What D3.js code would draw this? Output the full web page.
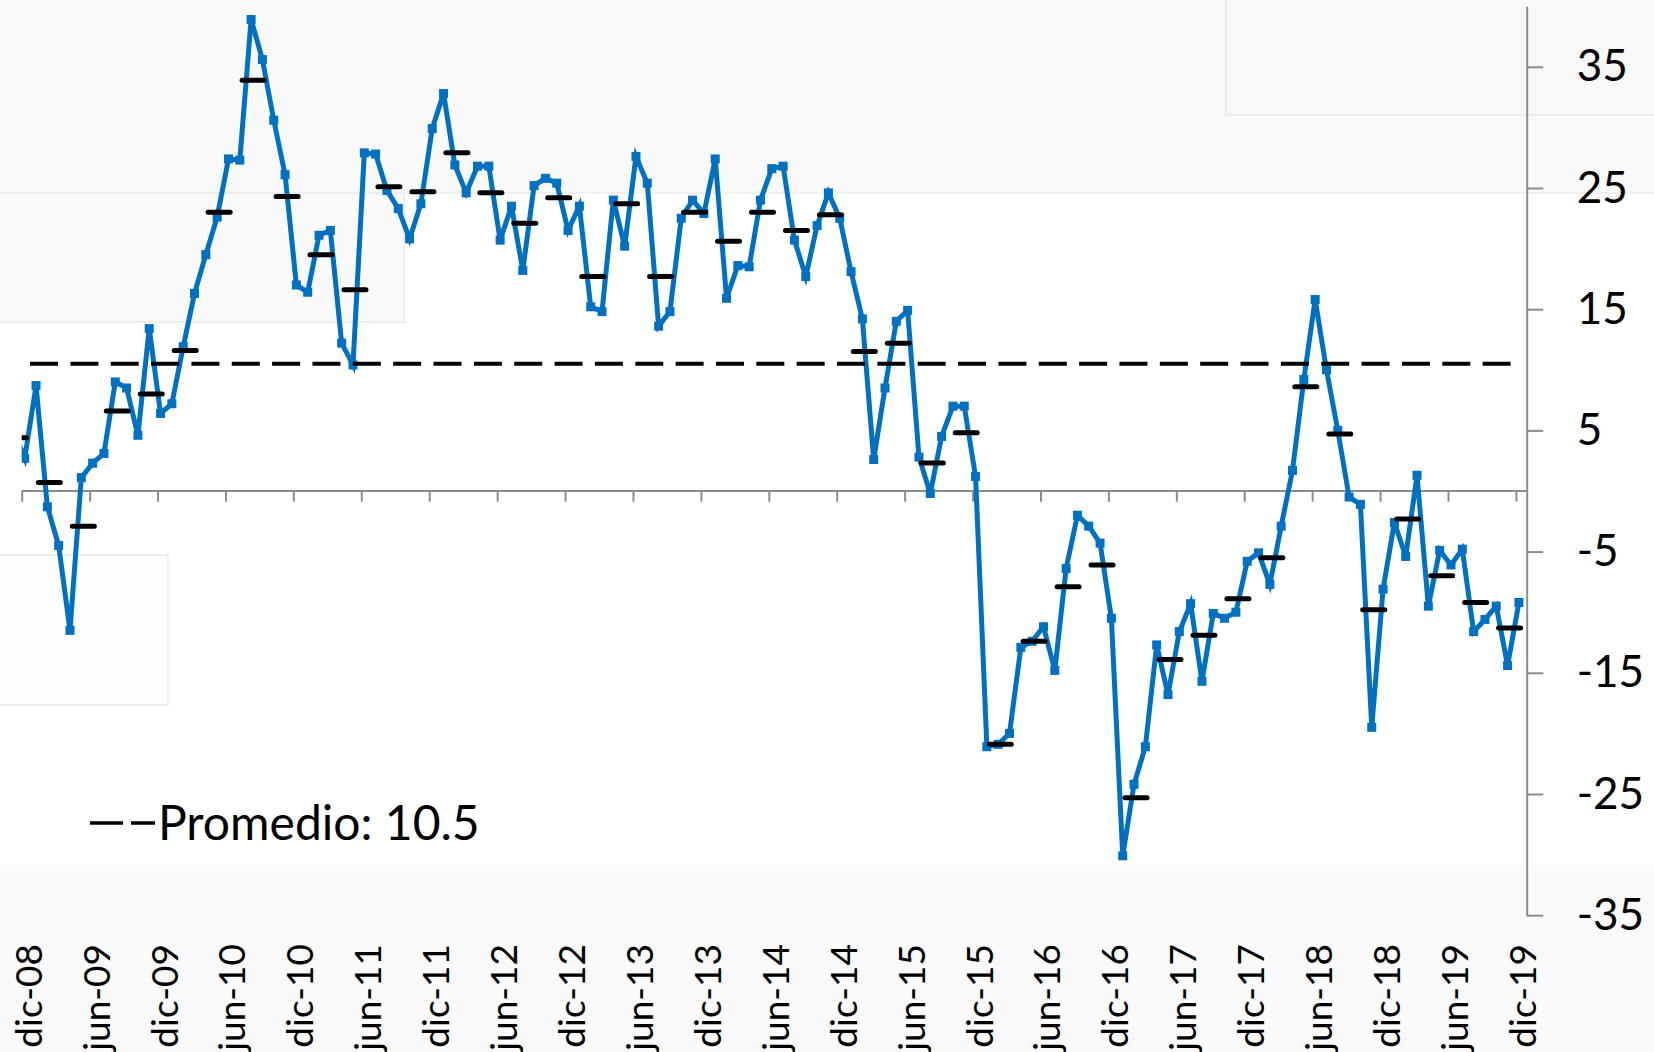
<!DOCTYPE html>
<html><head><meta charset="utf-8">
<script src="https://cdn.jsdelivr.net/npm/d3@7"></script>
<style>
body{margin:0;background:#fff;}
svg{display:block;}
text{font-family:Lato,"Open Sans",sans-serif;}
</style>
</head><body>
<svg id="chart" width="1654" height="1052"></svg>
<script>
// ---------- DATA ----------
const monthNames = ["ene","feb","mar","abr","may","jun","jul","ago","sep","oct","nov","dic"];
// categories: nov-08 ... dic-19 (monthly)
const months = [];
for (let yr = 2008; yr <= 2019; yr++) {
  for (let m = 0; m < 12; m++) {
    if (yr === 2008 && m < 10) continue;
    months.push(monthNames[m] + "-" + String(yr % 100).padStart(2, "0"));
  }
}
// monthly series (nov-08 .. dic-19)
const values = [
  5.0, 2.7,
  8.7, -1.3, -4.5, -11.5, 1.1, 2.3, 3.1, 9.0, 8.5, 4.6, 13.4, 6.4,
  7.2, 11.9, 16.3, 19.5, 22.6, 27.4, 27.3, 38.9, 35.6, 30.6, 26.1, 17.0,
  16.4, 21.1, 21.5, 12.2, 10.4, 27.9, 27.8, 24.8, 23.3, 20.8, 23.7, 29.9,
  32.8, 26.9, 24.6, 26.8, 26.8, 20.7, 23.5, 18.2, 25.2, 25.8, 25.4, 21.5,
  23.5, 15.2, 14.8, 24.0, 20.2, 27.6, 25.4, 13.6, 14.8, 22.5, 24.0, 22.9,
  27.4, 15.9, 18.6, 18.5, 24.0, 26.6, 26.8, 20.7, 17.7, 21.9, 24.6, 22.5,
  18.1, 14.2, 2.6, 8.5, 14.0, 14.9, 2.8, -0.2, 4.5, 7.0, 7.0, 1.2,
  -21.1, -20.9, -20.0, -12.9, -12.4, -11.2, -14.8, -6.4, -2.0, -2.9, -4.3, -10.5,
  -30.1, -24.2, -21.1, -12.7, -16.8, -11.6, -9.3, -15.7, -10.1, -10.5, -10.0, -5.8,
  -5.1, -7.7, -2.9, 1.7, 9.2, 15.8, 10.0, 5.0, -0.5, -1.1, -19.5, -8.1,
  -2.6, -5.4, 1.3, -9.5, -4.9, -6.1, -4.8, -11.6, -10.6, -9.5, -14.4, -9.2
];
// quarterly averages, placed at the middle month of each quarter
const quarterMonths = months.filter((d, i) => i % 3 === 0);
const quarterValues = [
  4.4, 0.7, -2.9, 6.6, 8.0, 11.6, 23.0, 33.9, 24.3, 19.5, 16.6, 25.1,
  24.7, 27.9, 24.6, 22.1, 24.2, 17.7, 23.7, 17.7, 23.0, 20.6, 23.0, 21.5,
  22.8, 11.5, 12.2, 2.3, 4.8, -20.9, -12.4, -7.9, -6.1, -25.3, -13.9, -11.9,
  -8.9, -5.5, 8.6, 4.7, -9.8, -2.3, -7.0, -9.2, -11.3
];
const average = 10.5;
const averageLabel = "Promedio: 10.5";
const xTickLabels = ["dic-08","jun-09","dic-09","jun-10","dic-10","jun-11","dic-11","jun-12",
  "dic-12","jun-13","dic-13","jun-14","dic-14","jun-15","dic-15","jun-16","dic-16","jun-17",
  "dic-17","jun-18","dic-18","jun-19","dic-19"];
const yTicks = [35, 25, 15, 5, -5, -15, -25, -35];

// ---------- LAYOUT ----------
const svg = d3.select("#chart");
const W = 1654, H = 1052;
const plotL = 21.7, plotR = 1526.7;
const x = d3.scalePoint().domain(months).range([13.4, 1518.9]);
const y = d3.scaleLinear().domain([-35, 40]).range([915.2, 6.2]);
const axisColor = "#8c8c8c";
const blue = "#0070C0";

// ---------- BACKGROUND PANELS ----------
const bg = svg.append("g");
bg.append("rect").attr("x",0).attr("y",0).attr("width",W).attr("height",193).attr("fill","#f9f9f9");
bg.append("line").attr("x1",0).attr("x2",W).attr("y1",193).attr("y2",193).attr("stroke","#f0f0f0").attr("stroke-width",2);
bg.append("rect").attr("x",1226).attr("y",-2).attr("width",440).attr("height",117).attr("fill","#f8f8f8").attr("stroke","#ececec").attr("stroke-width",2);
bg.append("rect").attr("x",-2).attr("y",193).attr("width",406).attr("height",129).attr("fill","#fafafa").attr("stroke","#eeeeee").attr("stroke-width",2);
bg.append("rect").attr("x",-2).attr("y",555).attr("width",170).attr("height",150).attr("fill","#fdfdfd").attr("stroke","#efefef").attr("stroke-width",2);
bg.append("rect").attr("x",0).attr("y",865).attr("width",W).attr("height",H-865).attr("fill","#fafafa");

// ---------- CLIP ----------
svg.append("defs").append("clipPath").attr("id","plotclip")
  .append("rect").attr("x",plotL).attr("y",0).attr("width",plotR-plotL).attr("height",H);

// ---------- X AXIS (zero line + ticks) ----------
svg.append("line").attr("x1",plotL).attr("x2",plotR).attr("y1",y(0)).attr("y2",y(0))
  .attr("stroke",axisColor).attr("stroke-width",2);
const xt = x.copy().range([13.4 - 3, 1518.9 - 3]);
const gx = svg.append("g").attr("transform",`translate(0,${y(0)})`)
  .call(d3.axisBottom(xt).tickValues(xTickLabels).tickSize(10.7).tickFormat(""));
gx.select(".domain").remove();
gx.selectAll(".tick line").attr("stroke",axisColor).attr("stroke-width",2);

// x labels (rotated, at bottom)
svg.append("g").selectAll("text").data(xTickLabels).join("text")
  .attr("transform", d => `translate(${xt(d) + 20},944) rotate(-90)`)
  .attr("text-anchor","end")
  .attr("font-size",37)
  .attr("fill","#000")
  .text(d => d);

// ---------- Y AXIS ----------
const gy = svg.append("g").attr("transform",`translate(${plotR},0)`)
  .call(d3.axisRight(y).tickValues(yTicks).tickSize(16.5).tickSizeOuter(0).tickPadding(33.5).tickFormat(d => String(d)));
gy.select(".domain").attr("stroke",axisColor).attr("stroke-width",2);
gy.selectAll(".tick line").attr("stroke",axisColor).attr("stroke-width",2);
gy.selectAll(".tick text").attr("font-size",44).attr("fill","#000").attr("font-family","Lato, 'Open Sans', sans-serif");

// ---------- SERIES ----------
const plot = svg.append("g").attr("clip-path","url(#plotclip)");
const line = d3.line().x((d, i) => x(months[i])).y(d => y(d));
plot.append("path").datum(values).attr("d",line)
  .attr("fill","none").attr("stroke",blue).attr("stroke-width",5).attr("stroke-linejoin","miter");
plot.append("g").selectAll("rect").data(values).join("rect")
  .attr("x",(d,i) => x(months[i]) - 4.5).attr("y",d => y(d) - 4.5)
  .attr("width",9).attr("height",9).attr("fill",blue);

// average dashed line
plot.append("line")
  .attr("x1",x("dic-08")).attr("x2",x("dic-19"))
  .attr("y1",y(average)).attr("y2",y(average))
  .attr("stroke","#000").attr("stroke-width",4)
  .attr("stroke-dasharray","28,12.35").attr("stroke-dashoffset",35.05);

// quarterly dashes
plot.append("g").selectAll("line").data(quarterValues).join("line")
  .attr("x1",(d,i) => x(quarterMonths[i]) + 2 - 11)
  .attr("x2",(d,i) => x(quarterMonths[i]) + 2 + 11)
  .attr("y1",d => y(d)).attr("y2",d => y(d))
  .attr("stroke","#000").attr("stroke-width",5).attr("stroke-linecap","round");

// ---------- LEGEND ----------
svg.append("line").attr("x1",90).attr("x2",155).attr("y1",823).attr("y2",823)
  .attr("stroke","#000").attr("stroke-width",3.3).attr("stroke-dasharray","33,8");
svg.append("text").attr("x",158).attr("y",840).attr("font-size",48).attr("fill","#000").text(averageLabel);
</script>
</body></html>
